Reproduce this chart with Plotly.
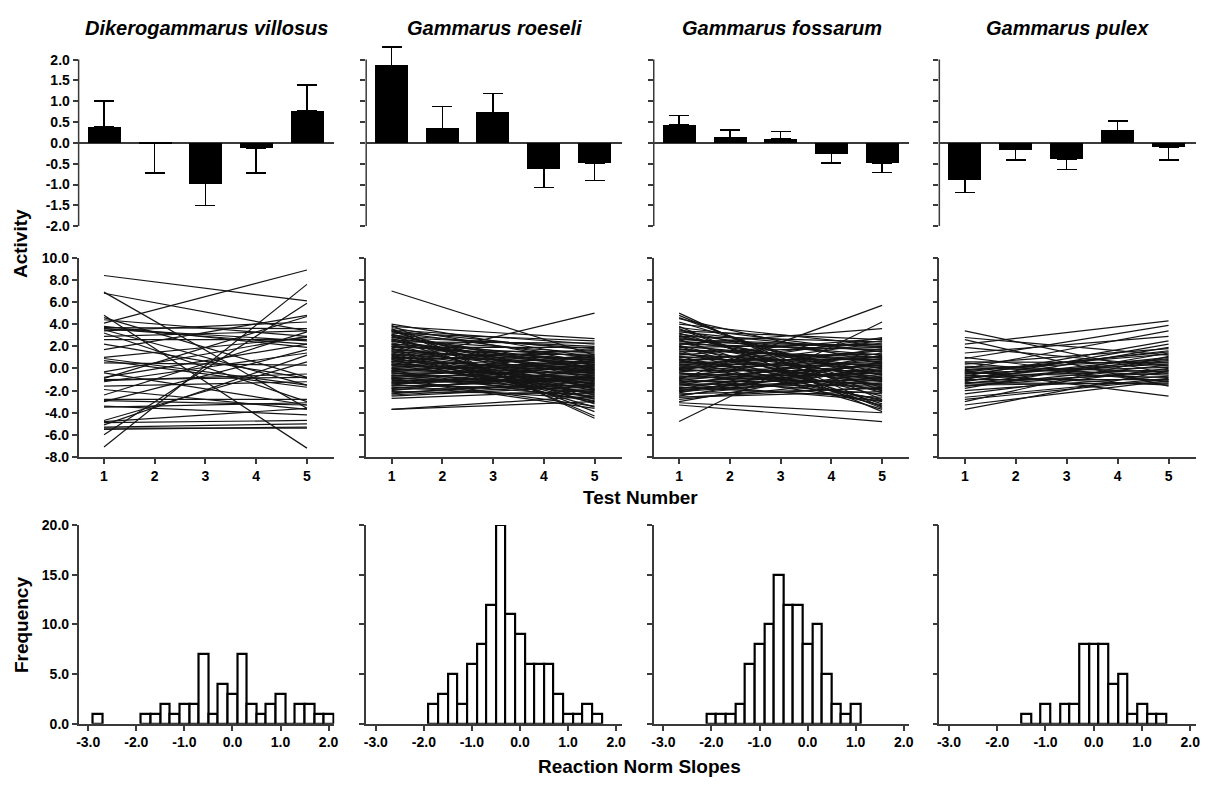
import plotly.graph_objects as go

# ---------------- data ----------------
species = ["Dikerogammarus villosus", "Gammarus roeseli", "Gammarus fossarum", "Gammarus pulex"]
tests = [1, 2, 3, 4, 5]

# top row: mean activity per test and one-sided error
act_villosus = [0.38, -0.01, -0.98, -0.12, 0.76]
err_villosus = [0.63, 0.71, 0.52, 0.60, 0.63]
act_roeseli = [1.86, 0.35, 0.73, -0.62, -0.48]
err_roeseli = [0.44, 0.52, 0.46, 0.45, 0.42]
act_fossarum = [0.43, 0.13, 0.10, -0.26, -0.49]
err_fossarum = [0.23, 0.18, 0.17, 0.22, 0.22]
act_pulex = [-0.88, -0.16, -0.39, 0.30, -0.11]
err_pulex = [0.31, 0.25, 0.25, 0.22, 0.30]

# middle row: individual reaction norms (activity at test 1 and test 5)
start_villosus = [8.4, 6.9, 6.8, 4.8, 4.6, 4.4, 4.1, 3.7, 3.6, 3.5,
                  3.4, 3.2, 3.8, 2.6, 2.2, 1.7, 1.0, 0.7, 0.5, -0.4,
                  -0.8, -0.9, -1.1, -1.2, -1.6, -1.9, -2.4, -2.8, -3.0, -3.4,
                  -3.5, -4.7, -4.9, -5.1, -5.3, -5.4, -5.5, -6.0, -7.1, 3.6,
                  -1.0, 0.9, -2.9, 2.9, -0.3, -4.8]
end_villosus = [6.1, -3.6, 3.4, -7.2, -0.8, 2.9, 8.9, 3.6, 2.5, -1.5,
                4.2, -3.0, 1.9, 2.6, -0.9, 4.8, 2.8, -1.7, 0.3, -3.3,
                2.2, 4.7, -0.5, 1.4, -1.2, -3.7, 3.3, -2.8, 1.7, -4.2,
                -3.1, 0.6, -4.7, 1.2, -5.0, -5.4, -5.3, 5.9, 7.6, 2.2,
                -0.8, -1.5, -3.3, 3.4, 2.9, -3.6]

start_roeseli = [7.0, 4.0, 3.9, 3.8, 3.7, 3.6, 3.5, 3.4, 3.4, 3.3,
                 3.2, 3.1, 3.0, 3.0, 2.9, 2.8, 2.7, 2.6, 2.6, 2.5,
                 2.4, 2.3, 2.2, 2.2, 2.1, 2.0, 1.9, 1.8, 1.8, 1.7,
                 1.6, 1.5, 1.5, 1.4, 1.3, 1.2, 1.2, 1.1, 1.0, 0.9,
                 0.9, 0.8, 0.7, 0.6, 0.6, 0.5, 0.4, 0.3, 0.3, 0.2,
                 0.1, 0.0, 0.0, -0.1, -0.2, -0.3, -0.3, -0.4, -0.5, -0.6,
                 -0.6, -0.7, -0.8, -0.9, -0.9, -1.0, -1.1, -1.2, -1.2, -1.3,
                 -1.4, -1.5, -1.5, -1.6, -1.7, -1.8, -1.9, -2.0, -2.1, -2.2,
                 -2.3, -2.5, -2.7, -3.7, -3.7, 0.6, 2.5, 1.0, -0.2, -1.0,
                 3.5, 2.0, 0.4, -0.8, -1.8, 1.6, -0.4, 2.8, -2.4, 0.8,
                 -1.3, 1.3, 3.0, -0.7]
end_roeseli = [1.2, 1.0, -4.5, 2.7, 0.5, -4.3, 2.2, 1.6, -2.8, 0.9,
               2.5, -1.0, 1.8, -3.9, 0.3, 2.0, -1.5, 1.4, -3.2, 0.0,
               2.3, -0.5, 1.1, -2.4, 0.7, -1.8, 1.9, -0.2, -3.5, 0.4,
               1.5, -1.2, 0.8, -2.0, 0.2, 1.3, -3.0, -0.7, 0.6, -1.6,
               1.0, -0.3, -2.6, 0.1, 1.7, -1.1, -0.6, 0.9, -2.2, -0.1,
               0.5, -1.4, -0.9, 0.3, -2.9, -0.4, 1.2, -1.7, 0.0, -0.8,
               -2.1, 0.6, -0.2, -1.3, -3.4, 0.2, -0.9, -0.5, -2.5, -1.0,
               -0.3, -1.9, 0.4, -1.1, -2.7, -0.6, -1.5, -0.1, -2.3, -1.2,
               -0.8, -1.6, -2.0, -3.0, -2.5, 5.0, -0.4, -2.7, 0.7, -3.6,
               -1.9, 0.8, -1.3, -2.2, -0.7, -0.5, -1.8, 0.1, -1.4, -3.1,
               -0.9, -2.4, -0.1, 0.3]

start_fossarum = [5.0, 4.8, 4.5, 4.2, 4.0, 3.8, 3.7, 3.5, 3.4, 3.2,
                  3.1, 3.0, 2.9, 2.8, 2.7, 2.6, 2.5, 2.4, 2.3, 2.2,
                  2.1, 2.0, 1.9, 1.8, 1.7, 1.6, 1.5, 1.4, 1.3, 1.2,
                  1.1, 1.0, 0.9, 0.8, 0.7, 0.6, 0.5, 0.4, 0.3, 0.2,
                  0.1, 0.0, -0.1, -0.2, -0.3, -0.4, -0.5, -0.6, -0.7, -0.8,
                  -0.9, -1.0, -1.1, -1.2, -1.3, -1.4, -1.5, -1.6, -1.7, -1.8,
                  -1.9, -2.0, -2.1, -2.2, -2.3, -2.4, -2.5, -2.6, -2.8, -3.0,
                  -3.1, -3.3, -4.8, 3.6, 2.2, 1.1, 0.0, -1.0, 2.9, 0.5,
                  -0.4, 1.7, -2.0, 3.3, -1.4, 0.8, 2.6, -0.8, -2.6, 1.4,
                  4.6, -0.1, -1.8, 2.0, 0.3, -1.2]
end_fossarum = [-3.5, -2.8, 0.4, -1.2, 2.1, -3.9, 1.5, -0.6, 2.6, -2.2,
                0.9, -1.7, 2.4, -0.3, 1.2, -3.2, 0.0, 2.0, -1.0, 1.7,
                -2.5, 0.6, 2.2, -0.8, 1.0, -3.7, 1.9, -1.5, 0.2, 2.7,
                -0.5, 1.3, -2.0, 0.8, -1.2, 2.5, 0.1, -2.8, 1.6, -0.9,
                0.4, -1.9, 2.3, -0.2, 1.1, -3.0, -0.7, 0.7, -1.4, 1.8,
                -0.4, -2.3, 0.9, -1.1, 0.3, -1.6, 1.4, -0.1, -2.6, 0.5,
                -1.3, 0.0, -0.8, 1.2, -1.8, -0.5, 0.6, -2.1, -1.0, 0.2,
                -4.0, -4.8, 4.2, -3.6, 3.6, -2.9, 2.8, 5.7, -0.6, 1.0,
                -1.5, 0.8, -0.2, 1.5, -2.9, -3.3, 2.0, 0.3, -1.7, -1.1,
                -2.0, 1.6, -0.9, -3.4, 0.5, -0.4]

start_pulex = [3.4, 2.8, 2.6, 2.2, 1.9, 1.4, 0.9, 0.5, 0.4, 0.2,
               0.0, -0.1, -0.2, -0.3, -0.4, -0.5, -0.6, -0.7, -0.8, -0.9,
               -1.0, -1.1, -1.2, -1.3, -1.4, -1.5, -1.6, -1.8, -2.0, -2.3,
               -2.6, -3.0, -3.3, -3.7, -0.5, -1.0, 0.1, -0.8, -1.3, 0.6,
               -0.2, -1.6, 1.0, -0.4, -2.8]
end_pulex = [-0.5, 1.2, -1.6, 4.3, 0.2, 2.9, 3.9, -1.2, 1.8, -0.3,
             3.4, 0.8, -2.5, 1.5, -0.8, 0.4, -1.5, 2.5, -0.1, 1.0,
             -1.0, 0.6, 1.9, -0.4, 0.9, -1.3, 0.3, 1.4, -0.7, 0.0,
             -0.9, 1.1, -1.1, -0.2, 1.6, 2.2, -0.6, 0.7, -1.4, 0.5,
             1.3, -0.2, -1.2, 0.1, -1.0]

# bottom row: histogram of reaction norm slopes (bin centres, counts)
bins_villosus = [-2.8, -1.8, -1.6, -1.4, -1.2, -1.0, -0.8, -0.6, -0.4, -0.2, 0.0,
                 0.2, 0.4, 0.6, 0.8, 1.0, 1.2, 1.4, 1.6, 1.8, 2.0]
freq_villosus = [1, 1, 1, 2, 1, 2, 2, 7, 1, 4, 3, 7, 2, 1, 2, 3, 0, 2, 2, 1, 1]
bins_roeseli = [-1.8, -1.6, -1.4, -1.2, -1.0, -0.8, -0.6, -0.4, -0.2, 0.0,
                0.2, 0.4, 0.6, 0.8, 1.0, 1.2, 1.4, 1.6]
freq_roeseli = [2, 3, 5, 2, 6, 8, 12, 20, 11, 9, 6, 6, 6, 3, 1, 1, 2, 1]
bins_fossarum = [-2.0, -1.8, -1.6, -1.4, -1.2, -1.0, -0.8, -0.6, -0.4, -0.2,
                 0.0, 0.2, 0.4, 0.6, 0.8, 1.0]
freq_fossarum = [1, 1, 1, 2, 6, 8, 10, 15, 12, 12, 8, 10, 5, 2, 1, 2]
bins_pulex = [-1.4, -1.2, -1.0, -0.8, -0.6, -0.4, -0.2, 0.0, 0.2, 0.4,
              0.6, 0.8, 1.0, 1.2, 1.4]
freq_pulex = [1, 0, 2, 0, 2, 2, 8, 8, 8, 4, 5, 1, 2, 1, 1]

act_means = [act_villosus, act_roeseli, act_fossarum, act_pulex]
act_errs = [err_villosus, err_roeseli, err_fossarum, err_pulex]
starts = [start_villosus, start_roeseli, start_fossarum, start_pulex]
ends = [end_villosus, end_roeseli, end_fossarum, end_pulex]
bins = [bins_villosus, bins_roeseli, bins_fossarum, bins_pulex]
freqs = [freq_villosus, freq_roeseli, freq_fossarum, freq_pulex]

bar_ticks = [-2.0, -1.5, -1.0, -0.5, 0.0, 0.5, 1.0, 1.5, 2.0]
line_ticks = [-8, -6, -4, -2, 0, 2, 4, 6, 8, 10]
hist_yticks = [0, 5, 10, 15, 20]
hist_xticks = [-3, -2, -1, 0, 1, 2]

# ---------------- layout helpers ----------------
W, H = 1211, 787
FONT = "Liberation Sans, Arial, sans-serif"
AX = "#3a3a3a"
col_px = [(77, 334), (366, 623), (655, 912), (942, 1200)]
row_px = {"bar": (37.8, 222.7), "line": (255.0, 458.3), "hist": (527.7, 730.7)}


def xd(a, b):
    return [a / W, b / W]


def yd(t, b):
    return [1 - b / H, 1 - t / H]


def ref(n):
    return ("x" if n == 1 else f"x{n}"), ("y" if n == 1 else f"y{n}")


def key(n):
    return ("xaxis" if n == 1 else f"xaxis{n}"), ("yaxis" if n == 1 else f"yaxis{n}")


tickfont = dict(family=FONT, size=14, color="black", weight="bold")
fig = go.Figure()
layout = {}
shapes = []

for c in range(4):
    # ---- top: bar chart of mean activity ----
    n = c + 1
    xr, yr = ref(n)
    xk, yk = key(n)
    vals = act_means[c]
    errs = act_errs[c]
    plus = [e if v >= 0 else 0 for v, e in zip(vals, errs)]
    minus = [e if v < 0 else 0 for v, e in zip(vals, errs)]
    fig.add_trace(go.Bar(
        x=tests, y=vals, width=0.65, marker=dict(color="black", line=dict(width=0)),
        error_y=dict(type="data", symmetric=False, array=plus, arrayminus=minus,
                     color="black", thickness=1.5, width=10),
        xaxis=xr, yaxis=yr, showlegend=False))
    layout[xk] = dict(domain=xd(*col_px[c]), anchor=yr, range=[0.5, 5.54],
                      showline=False, showticklabels=False, ticks="", showgrid=False, zeroline=False)
    layout[yk] = dict(domain=yd(*row_px["bar"]), anchor=xr, range=[-2, 2.35],
                      tickvals=bar_ticks, ticktext=[f"{v:.1f}" for v in bar_ticks],
                      showticklabels=(c == 0), ticks="outside", ticklen=5, tickwidth=1.5,
                      tickcolor=AX, showline=False, showgrid=False,
                      zeroline=True, zerolinecolor=AX, zerolinewidth=1.5, tickfont=tickfont)
    shapes.append(dict(type="line", xref=f"{xr} domain", yref=yr, x0=0, x1=0, y0=-2, y1=2,
                       line=dict(color=AX, width=1.5)))

    # ---- middle: reaction norms ----
    n = c + 5
    xr, yr = ref(n)
    xk, yk = key(n)
    lx, ly = [], []
    for s, e in zip(starts[c], ends[c]):
        lx += [tests[0], tests[-1], None]
        ly += [s, e, None]
    fig.add_trace(go.Scatter(x=lx, y=ly, mode="lines", line=dict(color="#151515", width=1.2),
                             xaxis=xr, yaxis=yr, showlegend=False, hoverinfo="skip"))
    layout[xk] = dict(domain=xd(*col_px[c]), anchor=yr, range=[0.5, 5.54],
                      tickvals=tests, ticktext=[str(t) for t in tests],
                      ticks="outside", ticklen=5, tickwidth=1.5, tickcolor=AX,
                      showline=True, linecolor=AX, linewidth=1.5,
                      showgrid=False, zeroline=False, tickfont=tickfont)
    layout[yk] = dict(domain=yd(*row_px["line"]), anchor=xr, range=[-8, 10],
                      tickvals=line_ticks, ticktext=[f"{v:.1f}" for v in line_ticks],
                      showticklabels=(c == 0), ticks="outside", ticklen=5, tickwidth=1.5,
                      tickcolor=AX, showline=True, linecolor=AX, linewidth=1.5,
                      showgrid=False, zeroline=False, tickfont=tickfont)

    # ---- bottom: histogram of slopes ----
    n = c + 9
    xr, yr = ref(n)
    xk, yk = key(n)
    fig.add_trace(go.Bar(x=bins[c], y=freqs[c], width=0.2,
                         marker=dict(color="white", line=dict(color="black", width=2.2)),
                         xaxis=xr, yaxis=yr, showlegend=False))
    layout[xk] = dict(domain=xd(*col_px[c]), anchor=yr, range=[-3.2, 2.12],
                      tickvals=hist_xticks, ticktext=[f"{v:.1f}" for v in hist_xticks],
                      ticks="outside", ticklen=5, tickwidth=1.5, tickcolor=AX,
                      showline=True, linecolor=AX, linewidth=1.5,
                      showgrid=False, zeroline=False, tickfont=tickfont)
    layout[yk] = dict(domain=yd(*row_px["hist"]), anchor=xr, range=[0, 20],
                      tickvals=hist_yticks, ticktext=[f"{v:.1f}" for v in hist_yticks],
                      showticklabels=(c == 0), ticks="outside", ticklen=5, tickwidth=1.5,
                      tickcolor=AX, showline=True, linecolor=AX, linewidth=1.5,
                      showgrid=False, zeroline=False, tickfont=tickfont)

annotations = []
for c, name in enumerate(species):
    a, b = col_px[c]
    annotations.append(dict(text=f"<b><i>{name}</i></b>", x=(a + b) / 2 / W, y=1 - 20 / H,
                            xref="paper", yref="paper", showarrow=False, xanchor="center",
                            yanchor="middle", font=dict(family=FONT, size=20, color="black")))

lab = dict(family=FONT, size=19, color="black")
annotations += [
    dict(text="<b>Activity</b>", x=18 / W, y=1 - 240 / H, textangle=-90),
    dict(text="<b>Frequency</b>", x=19 / W, y=1 - 629 / H, textangle=-90),
    dict(text="<b>Test Number</b>", x=642 / W, y=1 - 500 / H),
    dict(text="<b>Reaction Norm Slopes</b>", x=641 / W, y=1 - 774 / H),
]
for a in annotations[4:]:
    a.update(xref="paper", yref="paper", showarrow=False, xanchor="center", yanchor="middle", font=lab)

fig.update_layout(width=W, height=H, margin=dict(l=0, r=0, t=0, b=0),
                  paper_bgcolor="white", plot_bgcolor="white", bargap=0,
                  annotations=annotations, shapes=shapes, **layout)

fig.write_html("out.html", config={"displayModeBar": False},
               post_script="document.body.style.margin='0';document.body.style.overflow='hidden';")
